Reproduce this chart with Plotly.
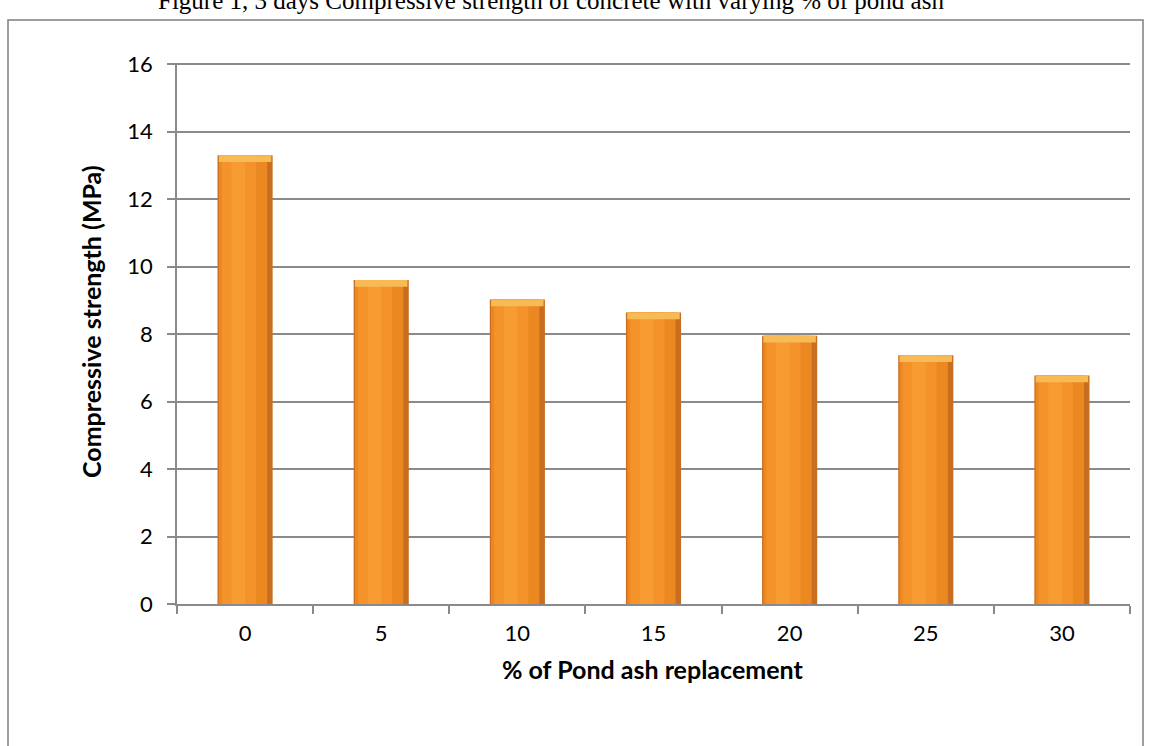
import plotly.graph_objects as go

categories = ["0", "5", "10", "15", "20", "25", "30"]
strength = [13.3, 9.6, 9.02, 8.64, 7.95, 7.37, 6.77]
y_ticks = [0, 2, 4, 6, 8, 10, 12, 14, 16]

W, H = 1153, 746
L, R, T, B = 177, 23, 63, 142
pw, ph = W - L - R, H - T - B

def px_x(p):
    return (p - L) / pw

def px_y(p):
    return (H - B - p) / ph

fig = go.Figure()
# base (dark edge)
fig.add_trace(go.Bar(x=categories, y=strength, width=0.405, marker=dict(color="#C96E20", line=dict(width=0)),
                     hoverinfo="skip"))
# main body
fig.add_trace(go.Bar(x=categories, y=strength, width=0.355, offset=-0.193,
                     marker=dict(color="#EC8822", line=dict(width=0)), hoverinfo="skip"))
fig.add_trace(go.Bar(x=categories, y=strength, width=0.25, offset=-0.17,
                     marker=dict(color="#F4932A", line=dict(width=0)), hoverinfo="skip"))
fig.add_trace(go.Bar(x=categories, y=strength, width=0.1, offset=-0.1,
                     marker=dict(color="#F79B33", line=dict(width=0)), hoverinfo="skip"))
# top cap
cap = [0.2] * len(strength)
fig.add_trace(go.Bar(x=categories, y=cap, base=[v - c for v, c in zip(strength, cap)], width=0.385,
                     marker=dict(color="#F8BA55", line=dict(width=0)), hoverinfo="skip"))

fig.update_layout(
    width=W, height=H,
    barmode="overlay",
    showlegend=False,
    plot_bgcolor="white",
    paper_bgcolor="white",
    margin=dict(l=L, r=R, t=T, b=B, autoexpand=False),
    font=dict(family="Lato", size=21, color="#000000"),
    xaxis=dict(
        type="category",
        tickson="boundaries",
        ticks="outside", ticklen=8, tickcolor="#8A8A8A", tickwidth=1.5,
        showline=True, linecolor="#8A8A8A", linewidth=1.5,
        showgrid=False,
        tickfont=dict(family="Lato", size=22),
        ticklabelstandoff=9,
        layer="above traces",
    ),
    yaxis=dict(
        range=[0, 16.03],
        tickvals=y_ticks,
        ticks="outside", ticklen=8, tickcolor="#8A8A8A", tickwidth=1.5,
        showline=True, linecolor="#8A8A8A", linewidth=1.5,
        showgrid=True, gridcolor="#8A8A8A", gridwidth=1.5,
        zeroline=False,
        tickfont=dict(family="Lato", size=22),
        ticklabelstandoff=10,
    ),
    shapes=[
        dict(type="rect", xref="paper", yref="paper",
             x0=px_x(8), x1=px_x(1143), y0=px_y(770), y1=px_y(20),
             line=dict(color="#7F7F7F", width=1.5), fillcolor="rgba(0,0,0,0)", layer="below"),
    ],
    annotations=[
        dict(text="Figure 1, 3 days Compressive strength of concrete with varying % of pond ash",
             xref="paper", yref="paper", x=px_x(551), y=px_y(16), xanchor="center", yanchor="bottom",
             showarrow=False, font=dict(family="Liberation Serif", size=25, color="#000000")),
        dict(text="<b>Compressive strength (MPa)</b>", textangle=-90,
             xref="paper", yref="paper", x=px_x(91), y=px_y(322), xanchor="center", yanchor="middle",
             showarrow=False, font=dict(family="Lato", size=25, color="#000000")),
        dict(text="<b>% of Pond ash replacement</b>",
             xref="paper", yref="paper", x=px_x(652), y=px_y(669), xanchor="center", yanchor="middle",
             showarrow=False, font=dict(family="Lato", size=25, color="#000000")),
    ],
)

fig.write_html("out.html")
